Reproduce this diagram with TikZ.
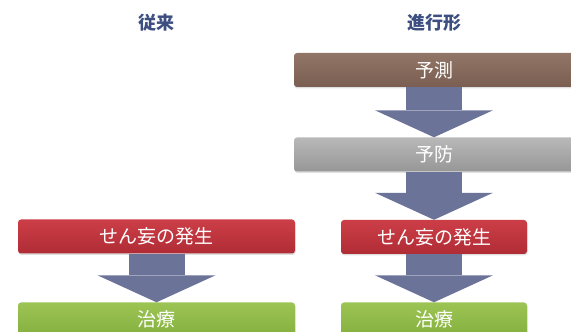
\documentclass[tikz,border=0pt]{standalone}
\usepackage{fontspec}
\newfontfamily\jp{Noto Sans CJK JP}
\usepackage{xcolor}
\usetikzlibrary{arrows.meta,shadows}
\definecolor{hd}{HTML}{3D4F80}
\definecolor{ar}{HTML}{6B7398}
\definecolor{brT}{HTML}{917566}
\definecolor{brB}{HTML}{7A5E51}
\definecolor{grT}{HTML}{B8B8B8}
\definecolor{grB}{HTML}{979797}
\definecolor{rdT}{HTML}{CC3E47}
\definecolor{rdB}{HTML}{B02C35}
\definecolor{gnT}{HTML}{9CC454}
\definecolor{gnB}{HTML}{84B03E}
\tikzset{
    BX/.style ={rectangle,rounded corners=3pt,minimum height=34pt,inner sep=0pt,text=white,
        font=\jp\fontsize{19}{19}\selectfont,
        drop shadow={opacity=0.25,shadow xshift=0.5pt,shadow yshift=-1.5pt}},
    BR/.style ={BX,minimum width=280pt,top color=brT,bottom color=brB},
    GR/.style ={BX,minimum width=280pt,top color=grT,bottom color=grB},
    RD1/.style ={BX,minimum width=277pt,top color=rdT,bottom color=rdB},
    RD2/.style ={BX,minimum width=186pt,top color=rdT,bottom color=rdB},
    GN1/.style ={BX,minimum width=277pt,top color=gnT,bottom color=gnB},
    GN2/.style ={BX,minimum width=186pt,top color=gnT,bottom color=gnB},
    HD/.style ={text=hd,font=\jp\bfseries\fontsize{18}{18}\selectfont},
    AR/.style ={-{Triangle[width=118pt,length=27pt,line width=0pt]},line width=56pt,draw=ar}
}

\begin{document}
\begin{tikzpicture}[x=1pt,y=1pt]
        \useasboundingbox (0,0) rectangle (571,332);
        \clip (0,0) rectangle (571,332);
        \node[HD](1) at (156,309) {従来};
        \node[HD](2) at (434,309) {進行形};
        % left
        \node[RD1](3) at (156.5,95.5) {せん妄の発生};
        \node[GN1](4) at (156.5,12.5) {治療};
        % right
        \node[BR](5) at (434,262) {予測};
        \node[GR](6) at (434,177.5) {予防};
        \node[RD2](7) at (434,95) {せん妄の発生};
        \node[GN2](8) at (434,12.5) {治療};
        \draw[AR] (3.south) -- (4.north);
        \draw[AR] (5.south) -- (6.north);
        \draw[AR] (6.south) -- (7.north);
        \draw[AR] (7.south) -- (8.north);
    \end{tikzpicture}
\end{document}
